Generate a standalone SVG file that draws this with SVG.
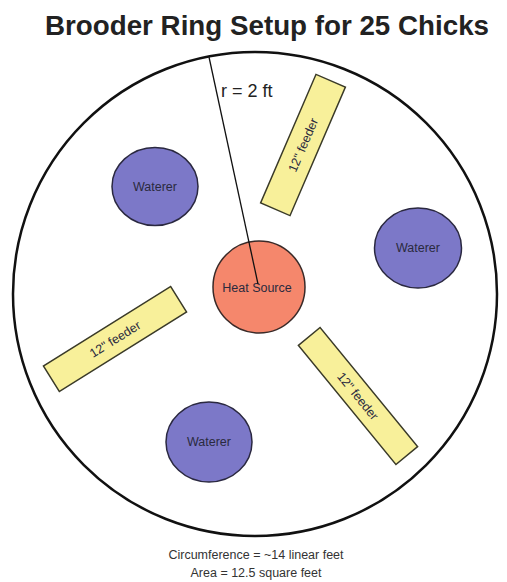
<svg xmlns="http://www.w3.org/2000/svg" width="507" height="582" viewBox="0 0 507 582">
<style>
text{font-family:"Liberation Sans",Arial,sans-serif;}
.title{font-size:27px;font-weight:bold;fill:#222;}
.lbl{font-size:12.5px;fill:#2a2a3e;}
.wat{fill:#7c78c8;stroke:#2a2840;stroke-width:1.5;}
.fd{fill:#f8f09a;stroke:#3a3a28;stroke-width:1.5;}
.cap{font-size:12.5px;fill:#333;}
</style>
<rect width="507" height="582" fill="#fff"/>
<text class="title" x="267" y="35" text-anchor="middle" textLength="444" lengthAdjust="spacingAndGlyphs">Brooder Ring Setup for 25 Chicks</text>
<g id="ring"><circle cx="255" cy="294" r="242" fill="#fff" stroke="#111" stroke-width="2.5"/></g>
<g id="heat">
<circle cx="259" cy="287" r="46" fill="#f5876c" stroke="#3a2a28" stroke-width="1.5"/>
<text class="lbl" x="257" y="292" text-anchor="middle">Heat Source</text>
</g>
<g id="connectors">
<line x1="209" y1="57" x2="258" y2="284" stroke="#111" stroke-width="1.3"/>
</g>
<text x="221" y="97" font-size="18" fill="#222">r = 2 ft</text>
<g id="waterer1"><ellipse class="wat" cx="155" cy="186.5" rx="43" ry="39"/><text class="lbl" x="155" y="191" text-anchor="middle">Waterer</text></g>
<g id="waterer2"><ellipse class="wat" cx="418" cy="248" rx="43.5" ry="40"/><text class="lbl" x="418" y="252" text-anchor="middle">Waterer</text></g>
<g id="waterer3"><ellipse class="wat" cx="209" cy="442" rx="43" ry="40"/><text class="lbl" x="209" y="446" text-anchor="middle">Waterer</text></g>
<g id="feeder1" transform="translate(303,145) rotate(-66.7)"><rect class="fd" x="-70" y="-16" width="140" height="32"/><text class="lbl" x="0" y="4.5" text-anchor="middle">12" feeder</text></g>
<g id="feeder2" transform="translate(115,339) rotate(-32)"><rect class="fd" x="-75" y="-15" width="150" height="30"/><text class="lbl" x="0" y="4.5" text-anchor="middle">12" feeder</text></g>
<g id="feeder3" transform="translate(358,396) rotate(50.7)"><rect class="fd" x="-77" y="-14" width="154" height="28"/><text class="lbl" x="0" y="4.5" text-anchor="middle">12" feeder</text></g>
<text class="cap" x="256" y="559" text-anchor="middle">Circumference = ~14 linear feet</text>
<text class="cap" x="256" y="577" text-anchor="middle">Area = 12.5 square feet</text>
</svg>
